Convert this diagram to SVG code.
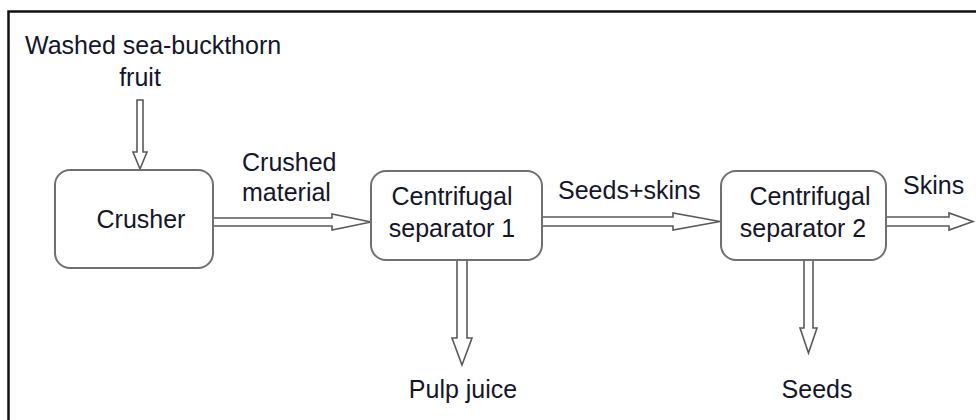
<svg xmlns="http://www.w3.org/2000/svg" width="976" height="420" viewBox="0 0 976 420">
<style>
.box{fill:#fff;stroke:#707070;stroke-width:2}
.arr{fill:#fff;stroke:#5a5a5a;stroke-width:1.6;stroke-linejoin:miter}
.t{font-family:"Liberation Sans",Arial,sans-serif;font-size:25px;fill:#15152a}
.m{text-anchor:middle}
</style>
<rect x="0" y="0" width="976" height="420" fill="#fff"/>
<path d="M8.5,420 V11.5 H976" fill="none" stroke="#111" stroke-width="2.5"/>
<g id="connectors">
<polygon class="arr" points="137,100 143,100 143,152 147,152 140,169 133,152 137,152"/>
<polygon class="arr" points="213,218 332,218 332,214 371,222 332,230 332,226 213,226"/>
<polygon class="arr" points="542,217 673,217 673,213 720,221.5 673,230 673,226 542,226"/>
<polygon class="arr" points="886,217 949,217 949,213 973,221.5 949,230 949,226 886,226"/>
<polygon class="arr" points="457,260 467,260 467,338 472,338 462,365 452,338 457,338"/>
<polygon class="arr" points="804,260 813,260 813,328 817,328 808.5,353 800,328 804,328"/>
</g>
<g id="fruit">
<text class="t" x="25" y="54">Washed sea-buckthorn</text>
<text class="t m" x="140" y="86">fruit</text>
</g>
<g id="crusher">
<rect class="box" x="55" y="170" width="158" height="98" rx="15"/>
<text class="t m" x="141" y="228">Crusher</text>
</g>
<g id="crushed-material">
<text class="t" x="242" y="171">Crushed</text>
<text class="t" x="242" y="201">material</text>
</g>
<g id="separator1">
<rect class="box" x="371" y="171" width="171" height="89" rx="15"/>
<text class="t m" x="452" y="205">Centrifugal</text>
<text class="t m" x="452" y="237">separator 1</text>
</g>
<g id="seeds-skins">
<text class="t" x="558" y="199">Seeds+skins</text>
</g>
<g id="separator2">
<rect class="box" x="721" y="171" width="165" height="89" rx="15"/>
<text class="t m" x="810" y="205">Centrifugal</text>
<text class="t m" x="803" y="237">separator 2</text>
</g>
<g id="skins">
<text class="t" x="903" y="194">Skins</text>
</g>
<g id="pulp-juice">
<text class="t m" x="463" y="398">Pulp juice</text>
</g>
<g id="seeds">
<text class="t m" x="817" y="398">Seeds</text>
</g>
</svg>
